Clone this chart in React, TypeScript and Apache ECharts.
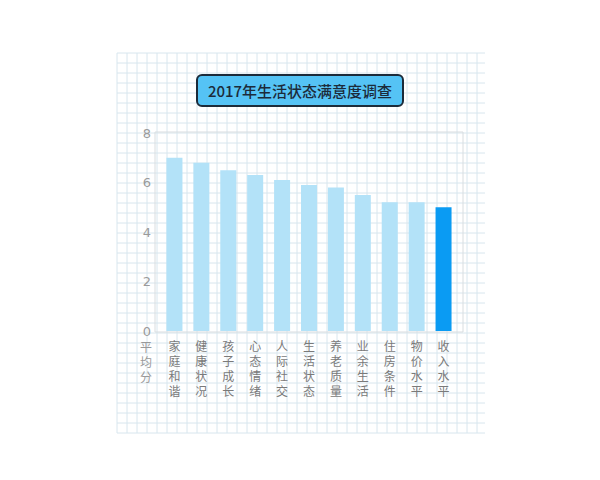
import { useEffect, useRef } from "react";
import * as echarts from "echarts";

const TITLE = "2017年生活状态满意度调查";
const Y_NAME = "平均分";
const CATEGORIES = [
  "家庭和谐",
  "健康状况",
  "孩子成长",
  "心态情绪",
  "人际社交",
  "生活状态",
  "养老质量",
  "业余生活",
  "住房条件",
  "物价水平",
  "收入水平",
];
const SCORES = [7.0, 6.8, 6.5, 6.3, 6.1, 5.9, 5.8, 5.5, 5.2, 5.2, 5.0];
const HIGHLIGHT = "收入水平";

const FONT = "'Noto Sans CJK SC', 'Noto Sans', sans-serif";
// compact line box for the stacked vertical labels; CJK glyphs fall back to Noto CJK
const LABEL_FONT = "'DejaVu Sans', 'Noto Sans CJK SC', sans-serif";
const LIGHT = "#b3e2f8";
const DARK = "#0a9bf3";

// graph-paper background lines
function paperLines() {
  const lines: any[] = [];
  const x0 = 117, x1 = 485, y0 = 53, y1 = 433;
  for (let x = x0; x <= x1; x += 10) {
    lines.push({
      type: "line",
      shape: { x1: x, y1: y0, x2: x, y2: y1 },
      style: { stroke: "#d8e6ee", lineWidth: 1 },
      silent: true,
    });
  }
  for (let y = y0; y <= y1; y += 10) {
    lines.push({
      type: "line",
      shape: { x1: x0, y1: y, x2: x1, y2: y },
      style: { stroke: "#d8e6ee", lineWidth: 1 },
      silent: true,
    });
  }
  return lines;
}

export default function App() {
  const chartRef = useRef<HTMLDivElement>(null);

  useEffect(() => {
    if (!chartRef.current) return;
    const chart = echarts.init(chartRef.current, null, { renderer: "svg" });

    chart.setOption({
      animation: false,
      backgroundColor: "#ffffff",
      textStyle: { fontFamily: FONT },
      title: {
        text: TITLE,
        left: "center",
        top: 75,
        backgroundColor: "#55c3f5",
        borderColor: "#1c2b3a",
        borderWidth: 2,
        borderRadius: 5,
        padding: [8, 11, 8, 11],
        textStyle: {
          fontFamily: FONT,
          fontSize: 15,
          fontWeight: 500,
          color: "#1c2b3a",
        },
      },
      graphic: [
        {
          type: "group",
          z: -10,
          silent: true,
          children: [
            ...paperLines(),
            {
              type: "rect",
              shape: { x: 155, y: 132, width: 308, height: 200 },
              style: { fill: "none", stroke: "#d8dde0", lineWidth: 1 },
            },
          ],
        },
        {
          type: "text",
          left: 140,
          top: 340,
          style: {
            text: Y_NAME.split("").join("\n"),
            fontFamily: LABEL_FONT,
            fontSize: 12,
            lineHeight: 15,
            fill: "#999999",
          },
        },
      ],
      grid: {
        left: 161,
        right: 143,
        top: 133,
        bottom: 149,
      },
      xAxis: {
        type: "category",
        data: CATEGORIES,
        axisLine: { show: false },
        axisTick: { show: false },
        axisLabel: {
          interval: 0,
          margin: 8,
          color: "#7a7a7a",
          fontFamily: LABEL_FONT,
          fontSize: 12,
          lineHeight: 15,
          formatter: (v: string) => v.split("").join("\n"),
        },
      },
      yAxis: {
        type: "value",
        min: 0,
        max: 8,
        interval: 2,
        axisLine: { show: false },
        axisTick: { show: false },
        splitLine: { show: false },
        axisLabel: {
          margin: 10,
          color: "#9a9a9a",
          fontFamily: LABEL_FONT,
          fontSize: 13,
        },
      },
      series: [
        {
          type: "bar",
          barWidth: 16,
          data: SCORES.map((v, i) => ({
            value: v,
            itemStyle: { color: CATEGORIES[i] === HIGHLIGHT ? DARK : LIGHT },
          })),
        },
      ],
    });

    return () => {
      chart.dispose();
    };
  }, []);

  return (
    <div
      ref={chartRef}
      style={{ position: "fixed", left: 0, top: 0, width: 600, height: 480 }}
    />
  );
}
